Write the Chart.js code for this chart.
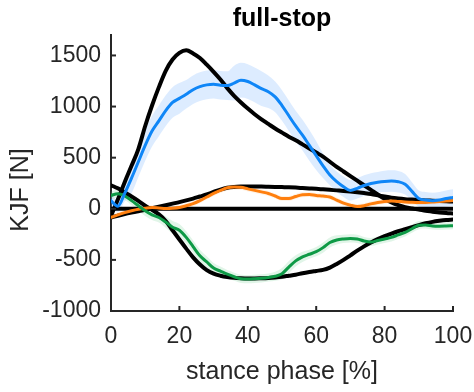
<!DOCTYPE html>
<html>
<head>
<meta charset="utf-8">
<script src="https://cdn.jsdelivr.net/npm/chart.js@4/dist/chart.umd.min.js"></script>
<style>
html,body{margin:0;padding:0;background:#fff;}
#wrap{width:474px;height:392px;}
</style>
</head>
<body>
<div id="wrap"><canvas id="c" width="474" height="392"></canvas></div>
<script>
// ---- data (stance phase %, KJF in N) ----
const xs = [0,2,4,6,8,10,12,14,16,18,20,22,24,26,28,30,32,34,36,38,40,42,44,46,48,50,52,54,56,58,60,62,64,66,68,70,72,74,76,78,80,82,84,86,88,90,92,94,96,98,100];

const blackA = [-70,90,260,420,584,810,1010,1190,1350,1460,1525,1550,1520,1475,1410,1340,1265,1180,1105,1040,980,925,875,830,785,745,705,670,630,590,550,510,460,410,365,320,275,230,185,140,97,62,35,15,2,-8,-20,-28,-36,-42,-46];
const blackB = [230,200,160,120,77,30,-10,-55,-120,-210,-300,-390,-475,-545,-600,-635,-655,-668,-676,-680,-682,-682,-680,-677,-672,-665,-655,-645,-630,-618,-608,-598,-575,-540,-500,-455,-410,-368,-330,-297,-268,-243,-220,-200,-180,-160,-142,-128,-118,-110,-105];
const blackC = [-85,-68,-52,-38,-25,-10,5,20,35,50,65,82,100,120,140,165,188,205,213,217,219,219,218,216,214,212,210,207,203,199,195,190,185,180,175,169,162,154,145,133,120,108,100,94,90,86,82,79,76,73,70];
const zeroLine = xs.map(() => 0);

const blueMean = [80,25,150,300,460,620,760,860,960,1040,1080,1120,1165,1195,1212,1218,1208,1205,1230,1258,1245,1212,1175,1145,1095,1010,910,810,720,620,520,420,330,265,215,180,200,228,248,260,268,272,265,240,170,100,85,78,85,100,110];
const blueSd   = [60,60,80,150,150,150,150,150,150,150,150,140,140,140,140,140,140,140,170,170,170,170,170,160,150,150,150,150,150,150,140,120,100,100,100,100,100,100,100,100,105,105,105,100,90,80,80,80,80,80,80];

const greenMean = [130,147,125,80,30,-20,-60,-85,-130,-180,-210,-280,-370,-460,-520,-580,-610,-640,-665,-685,-688,-685,-680,-672,-660,-635,-570,-510,-470,-445,-420,-380,-330,-305,-295,-290,-295,-315,-325,-310,-295,-280,-255,-230,-195,-160,-158,-168,-170,-168,-165];
const greenSd   = [40,40,40,45,50,50,50,50,55,60,60,60,60,60,55,50,45,40,40,40,40,40,40,40,45,55,60,55,50,45,45,50,50,45,40,40,40,40,40,40,40,40,40,40,40,40,35,35,35,35,35];

const orangeMean = [-85,-60,-38,-20,-5,5,12,8,3,5,12,30,50,80,115,150,180,205,212,210,195,180,165,150,125,100,100,120,138,140,130,125,115,85,55,35,22,30,48,62,72,77,72,67,63,61,62,66,72,77,80];
const orangeSd   = [25,25,25,25,25,25,25,25,25,25,25,25,25,25,25,25,25,25,25,25,25,25,25,25,25,25,25,25,25,25,25,25,25,25,25,25,25,25,25,25,25,25,25,25,25,25,25,25,25,25,25];

const xTicks = [0,20,40,60,80,100];
const yTicks = [-1000,-500,0,500,1000,1500];

const titleText = 'full-stop';
const xLabel = 'stance phase [%]';
const yLabel = 'KJF [N]';

// ---- helpers ----
const FONT = "'Liberation Sans', Arial, Helvetica, sans-serif";
const AX = '#262626';
const pts = arr => xs.map((x, i) => ({x: x, y: arr[i]}));
const plus = (m, s) => m.map((v, i) => v + s[i]);
const minus = (m, s) => m.map((v, i) => v - s[i]);

function line(data, color, width, order) {
  return {data: pts(data), borderColor: color, borderWidth: width, pointRadius: 0,
    fill: false, cubicInterpolationMode: 'monotone', order: order, borderCapStyle: 'round'};
}
function bandHi(data, color) {
  return {data: pts(data), borderWidth: 0, pointRadius: 0, fill: '+1', backgroundColor: color,
    cubicInterpolationMode: 'monotone', order: 3};
}
function bandLo(data) {
  return {data: pts(data), borderWidth: 0, pointRadius: 0, fill: false,
    cubicInterpolationMode: 'monotone', order: 3};
}

const inwardTicks = {
  id: 'inwardTicks',
  afterDraw(chart) {
    const {ctx, chartArea, scales} = chart;
    ctx.save();
    ctx.strokeStyle = AX;
    ctx.lineWidth = 2;
    yTicks.forEach(v => {
      const py = scales.y.getPixelForValue(v);
      ctx.beginPath(); ctx.moveTo(chartArea.left, py); ctx.lineTo(chartArea.left + 5, py); ctx.stroke();
    });
    xTicks.forEach(v => {
      const px = scales.x.getPixelForValue(v);
      ctx.beginPath(); ctx.moveTo(px, chartArea.bottom); ctx.lineTo(px, chartArea.bottom - 5); ctx.stroke();
    });
    // y label
    ctx.fillStyle = AX;
    ctx.font = '25px ' + FONT;
    ctx.textAlign = 'center';
    ctx.textBaseline = 'middle';
    ctx.translate(21, 190);
    ctx.rotate(-Math.PI / 2);
    ctx.fillText(yLabel, 0, 0);
    ctx.restore();
  }
};

new Chart(document.getElementById('c'), {
  type: 'line',
  data: {
    datasets: [
      line(blueMean, '#0F86F7', 3, 0),
      line(greenMean, '#0E9A46', 3, 0),
      line(orangeMean, '#FF7F0E', 3, 0),
      line(blackA, '#000000', 4, 1),
      line(blackB, '#000000', 4, 1),
      line(blackC, '#000000', 4, 1),
      line(zeroLine, '#000000', 4, 1),
      bandHi(plus(blueMean, blueSd), 'rgba(120,180,255,0.25)'),
      bandLo(minus(blueMean, blueSd)),
      bandHi(plus(greenMean, greenSd), 'rgba(120,210,150,0.22)'),
      bandLo(minus(greenMean, greenSd)),
      bandHi(plus(orangeMean, orangeSd), 'rgba(255,190,120,0.18)'),
      bandLo(minus(orangeMean, orangeSd))
    ]
  },
  options: {
    responsive: false,
    animation: false,
    devicePixelRatio: 1,
    layout: {padding: {left: 0, right: 21, top: 0, bottom: 0}},
    plugins: {
      legend: {display: false},
      tooltip: {enabled: false},
      title: {
        display: true, text: titleText, fullSize: false, color: '#000',
        font: {family: FONT, size: 25, weight: 'bold', lineHeight: 1.2},
        padding: {top: 4, bottom: 1}
      }
    },
    scales: {
      x: {
        type: 'linear', min: 0, max: 100,
        afterBuildTicks: s => { s.ticks = xTicks.map(v => ({value: v})); },
        afterFit: s => { s.height = 81; s.paddingRight = 0; s.paddingLeft = 0; },
        grid: {display: false, drawTicks: false},
        border: {display: true, color: AX, width: 2},
        ticks: {color: AX, font: {family: FONT, size: 23}, padding: 12, maxRotation: 0,
          callback: v => String(v)},
        title: {display: true, text: xLabel, color: AX, font: {family: FONT, size: 25, lineHeight: 1.2},
          padding: {top: 0, bottom: 5}}
      },
      y: {
        type: 'linear', min: -1000, max: 1700,
        afterBuildTicks: s => { s.ticks = yTicks.map(v => ({value: v})); },
        afterFit: s => { s.width = 111; s.paddingTop = 0; s.paddingBottom = 0; },
        grid: {display: false, drawTicks: false},
        border: {display: true, color: AX, width: 2},
        ticks: {color: AX, font: {family: FONT, size: 23}, padding: 10,
          callback: v => String(v)}
      }
    }
  },
  plugins: [inwardTicks]
});
</script>
</body>
</html>
